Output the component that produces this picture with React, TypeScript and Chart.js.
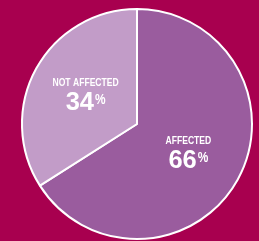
import React, { useEffect, useRef } from "react";
import { Chart, registerables } from "chart.js";

Chart.register(...registerables);

const categories = ["AFFECTED", "NOT AFFECTED"];
const values = [66, 34];
const sliceColors = ["#9A5C9E", "#C29CC8"];
const background = "#A8004F";
const labelNudgeY = [0.5, -0.5];
const FONT = "'Liberation Sans', Arial, sans-serif";

function drawScaled(ctx: any, text: string, x: number, y: number, font: string, sx: number, align: string) {
  ctx.save();
  ctx.font = font;
  ctx.textAlign = align;
  ctx.translate(x, y);
  ctx.scale(sx, 1);
  ctx.fillText(text, 0, 0);
  ctx.restore();
}

const labelPlugin = {
  id: "sliceLabels",
  afterDatasetsDraw(chart: any) {
    const ctx = chart.ctx;
    const meta = chart.getDatasetMeta(0);
    const total = values.reduce((a, b) => a + b, 0);
    meta.data.forEach((arc: any, i: number) => {
      const { x, y, startAngle, endAngle, outerRadius } = arc.getProps(
        ["x", "y", "startAngle", "endAngle", "outerRadius"],
        true
      );
      const mid = (startAngle + endAngle) / 2;
      const r = outerRadius * 0.51;
      const cx = x + Math.cos(mid) * r;
      const cy = y + Math.sin(mid) * r + labelNudgeY[i];
      const pct = Math.round((values[i] / total) * 100);
      ctx.save();
      ctx.fillStyle = "#ffffff";
      ctx.textBaseline = "alphabetic";
      const labelFont = `bold 11px ${FONT}`;
      drawScaled(ctx, categories[i], cx, cy - 9, labelFont, 0.78, "center");
      const numFont = `bold 26px ${FONT}`;
      const pctFont = `bold 14px ${FONT}`;
      const num = String(pct);
      ctx.font = numFont;
      const nw = ctx.measureText(num).width * 0.98;
      ctx.font = pctFont;
      const pw = ctx.measureText("%").width * 0.85;
      const startX = cx - (nw + 1 + pw) / 2;
      drawScaled(ctx, num, startX, cy + 15, numFont, 0.98, "left");
      drawScaled(ctx, "%", startX + nw + 1, cy + 9, pctFont, 0.85, "left");
      ctx.restore();
    });
  },
};

export default function App() {
  const ref = useRef<HTMLCanvasElement>(null);
  useEffect(() => {
    if (!ref.current) return;
    const chart = new Chart(ref.current, {
      type: "pie",
      data: {
        labels: categories,
        datasets: [
          {
            data: values,
            backgroundColor: sliceColors,
            borderColor: "#ffffff",
            borderWidth: 2,
          },
        ],
      },
      options: {
        responsive: false,
        animation: false,
        layout: { padding: { left: 21, right: 6, top: 8, bottom: 10 } },
        plugins: {
          legend: { display: false },
          tooltip: { enabled: false },
        },
      },
      plugins: [labelPlugin],
    });
    return () => chart.destroy();
  }, []);
  return (
    <div
      style={{
        position: "fixed",
        left: 0,
        top: 0,
        width: 259,
        height: 241,
        overflow: "hidden",
        background,
      }}
    >
      <canvas ref={ref} width={259} height={250} style={{ display: "block" }} />
    </div>
  );
}
